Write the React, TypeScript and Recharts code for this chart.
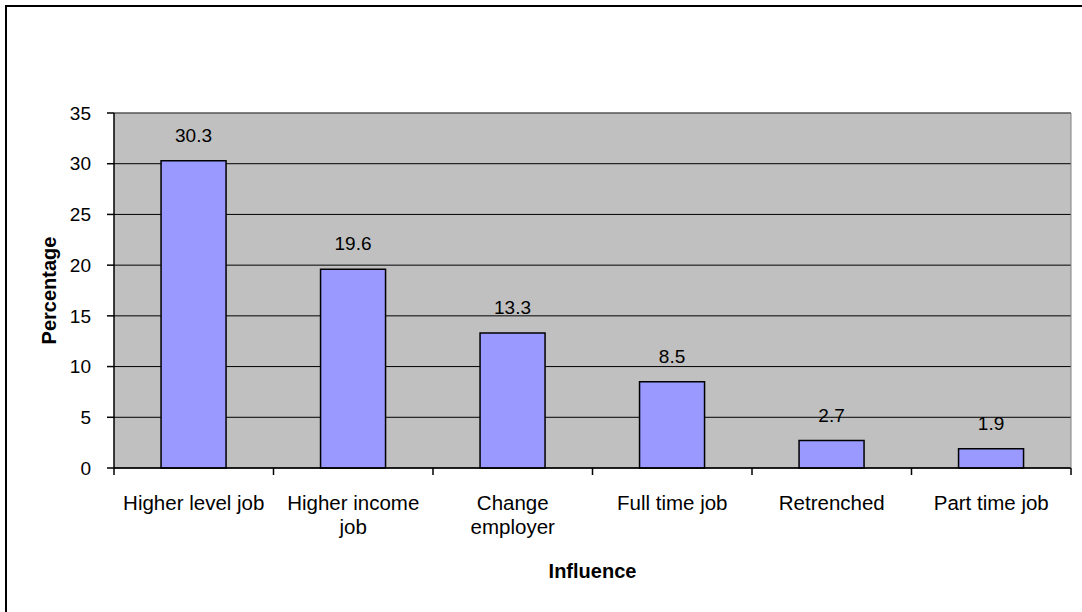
import React from "react";
import { BarChart, Bar, XAxis, YAxis, CartesianGrid, LabelList } from "recharts";

// categories ("\n" marks where the label wraps onto a second line)
const CATEGORIES = [
  "Higher level job",
  "Higher income\njob",
  "Change\nemployer",
  "Full time job",
  "Retrenched",
  "Part time job",
];
const PERCENTAGES = [30.3, 19.6, 13.3, 8.5, 2.7, 1.9];
const Y_TICKS = [0, 5, 10, 15, 20, 25, 30, 35];

const data = CATEGORIES.map((name, i) => ({ name, value: PERCENTAGES[i] }));

const FONT = "'Liberation Sans', Arial, Helvetica, sans-serif";
const NUM_SIZE = 19;
const CAT_SIZE = 20.5;

// category label + Excel-style tick marks on the category boundaries
function CategoryTick(props: any) {
  const { x, y, payload, width, visibleTicksCount, index } = props;
  const half = width / visibleTicksCount / 2;
  const lines = String(payload.value).split("\n");
  return (
    <g>
      <line x1={x - half} x2={x - half} y1={y} y2={y + 7} stroke="#000" strokeWidth={1.5} />
      {index === visibleTicksCount - 1 && (
        <line x1={x + half} x2={x + half} y1={y} y2={y + 7} stroke="#000" strokeWidth={1.5} />
      )}
      <text x={x} y={y + 42} textAnchor="middle" fill="#000" fontSize={CAT_SIZE} fontFamily={FONT}>
        {lines.map((l, i) => (
          <tspan key={i} x={x} dy={i === 0 ? 0 : 24}>
            {l}
          </tspan>
        ))}
      </text>
    </g>
  );
}

function PercentLabel(props: any) {
  const { viewBox } = props;
  const cx = viewBox.x + 56;
  const cy = viewBox.y + viewBox.height / 2;
  return (
    <text
      x={cx}
      y={cy}
      transform={`rotate(-90, ${cx}, ${cy})`}
      textAnchor="middle"
      fontWeight="bold"
      fontSize={20}
      fontFamily={FONT}
      fill="#000"
    >
      Percentage
    </text>
  );
}

export default function App() {
  return (
    <div style={{ position: "absolute", left: 0, top: 0, width: 1082, height: 612, overflow: "hidden", background: "#fff" }}>
      <div
        style={{
          position: "absolute",
          left: 5,
          top: 5,
          width: 1100,
          height: 640,
          border: "2px solid #000",
          boxSizing: "border-box",
        }}
      />
      <div style={{ position: "absolute", left: 0, top: 0 }}>
        <BarChart
          width={1082}
          height={612}
          data={data}
          margin={{ top: 112, right: 10, bottom: 20, left: 0 }}
          barCategoryGap="29.5%"
        >
          <CartesianGrid
            xAxisId="cat"
            vertical={false}
            stroke="#000"
            fill="#C0C0C0"
            fillOpacity={1}
          />
          <XAxis
            xAxisId="cat"
            dataKey="name"
            interval={0}
            axisLine={{ stroke: "#000", strokeWidth: 1.5 }}
            tickLine={false}
            tickSize={0}
            tickMargin={0}
            height={124}
            tick={<CategoryTick />}
            label={{
              value: "Influence",
              position: "insideBottom",
              offset: 14,
              fontWeight: "bold",
              fontSize: 20,
              fontFamily: FONT,
              fill: "#000",
            }}
          />
          <XAxis
            xAxisId="top"
            orientation="top"
            type="number"
            domain={[0, 1]}
            allowDataOverflow
            height={1}
            tick={false}
            tickLine={false}
            axisLine={{ stroke: "#808080" }}
          />
          <YAxis
            domain={[0, 35]}
            ticks={Y_TICKS}
            width={114}
            tickSize={7}
            tickMargin={16}
            axisLine={{ stroke: "#000", strokeWidth: 1.5 }}
            tickLine={{ stroke: "#000", strokeWidth: 1.5 }}
            tick={{ fill: "#000", fontSize: NUM_SIZE, fontFamily: FONT }}
            label={<PercentLabel />}
          />
          <YAxis
            yAxisId="right"
            orientation="right"
            domain={[0, 35]}
            width={1}
            tick={false}
            tickLine={false}
            axisLine={{ stroke: "#808080" }}
          />
          <Bar
            xAxisId="cat"
            dataKey="value"
            fill="#9999FF"
            stroke="#000"
            strokeWidth={1.5}
            isAnimationActive={false}
          >
            <LabelList
              dataKey="value"
              position="top"
              offset={19}
              fill="#000"
              fontSize={NUM_SIZE}
              fontFamily={FONT}
            />
          </Bar>
        </BarChart>
      </div>
    </div>
  );
}
